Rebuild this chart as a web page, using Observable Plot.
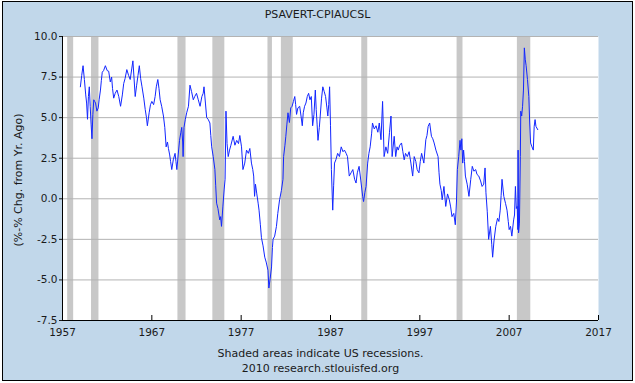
<!DOCTYPE html>
<html>
<head>
<meta charset="utf-8">
<script src="https://cdn.jsdelivr.net/npm/d3@7"></script>
<script src="https://cdn.jsdelivr.net/npm/@observablehq/plot@0.6"></script>
<style>
  html, body { margin: 0; padding: 0; background: #ffffff; }
  body { width: 635px; height: 383px; position: relative; overflow: hidden; font-family: "DejaVu Sans", Verdana, sans-serif; color: #1a1a1a; }
  #frame { position: absolute; left: 2px; top: 1px; width: 631px; height: 380px; box-sizing: border-box; border: 1px solid #000; background: #c1d7ea; }
  #chart { position: absolute; left: 0; top: 0; }
  .txt { position: absolute; left: 0; width: 635px; text-align: center; font-size: 11px; line-height: 14px; white-space: nowrap; }
  #ylab { position: absolute; left: 19px; top: 180px; font-size: 11px; line-height: 14px; white-space: nowrap; transform: translate(-50%, -50%) rotate(-90deg); }
</style>
</head>
<body>
<div id="frame"></div>
<div id="chart"></div>
<div class="txt" id="title" style="top:8px;">PSAVERT-CPIAUCSL</div>
<div id="ylab">(%-% Chg. from Yr. Ago)</div>
<div class="txt" style="top:347px; left:3px;">Shaded areas indicate US recessions.</div>
<div class="txt" style="top:362px; left:3px;">2010 research.stlouisfed.org</div>
<script>
const years = [
1959.0,1959.15,1959.3,1959.45,1959.6,1959.7,1959.8,1959.9,1960.0,1960.1,1960.2,1960.3,1960.4,1960.5,1960.6,1960.7,1960.85,
1961.0,1961.1,1961.25,1961.35,1961.45,1961.6,1961.8,1962.0,1962.17,1962.35,1962.5,1962.6,1962.73,1962.9,
1963.1,1963.3,1963.5,1963.7,1963.85,1964.0,1964.2,1964.4,1964.58,1964.75,1964.88,1965.0,1965.14,1965.3,1965.45,1965.6,1965.75,1965.9,
1966.1,1966.26,1966.4,1966.5,1966.7,1966.85,1967.0,1967.2,1967.37,1967.5,1967.67,1967.8,1967.93,
1968.1,1968.3,1968.45,1968.6,1968.75,1968.86,1969.0,1969.1,1969.23,1969.4,1969.6,1969.7,1969.8,1969.95,
1970.1,1970.25,1970.35,1970.45,1970.5,1970.6,1970.75,1970.9,1971.1,1971.27,1971.45,1971.64,1971.8,
1972.0,1972.2,1972.4,1972.6,1972.75,1972.84,1973.0,1973.14,1973.3,1973.5,1973.6,1973.7,1973.87,
1974.06,1974.15,1974.25,1974.4,1974.6,1974.7,1974.8,1974.95,1975.1,1975.2,1975.3,1975.42,1975.55,1975.7,1975.85,
1976.1,1976.3,1976.5,1976.7,1976.85,1977.04,1977.2,1977.4,1977.6,1977.8,1977.97,
1978.15,1978.3,1978.4,1978.5,1978.6,1978.75,1978.9,1979.0,1979.15,1979.27,1979.45,1979.64,1979.8,
1980.0,1980.1,1980.25,1980.4,1980.5,1980.57,1980.75,1980.95,1981.1,1981.3,1981.5,1981.68,1981.75,1981.9,
1982.0,1982.12,1982.24,1982.4,1982.55,1982.7,1982.85,1983.0,1983.1,1983.2,1983.35,1983.55,1983.7,1983.84,1983.95,
1984.1,1984.25,1984.4,1984.55,1984.7,1984.85,1985.0,1985.15,1985.3,1985.4,1985.5,1985.6,1985.75,1985.85,
1986.0,1986.14,1986.3,1986.45,1986.6,1986.7,1986.8,1986.9,1987.0,1987.1,1987.25,1987.35,1987.45,1987.6,1987.8,
1988.0,1988.2,1988.4,1988.56,1988.75,1988.9,1989.1,1989.3,1989.5,1989.7,1989.86,
1990.0,1990.2,1990.4,1990.6,1990.7,1990.85,1990.98,1991.16,1991.3,1991.44,1991.6,1991.7,1991.9,
1992.1,1992.3,1992.46,1992.65,1992.83,1993.0,1993.2,1993.4,1993.6,1993.77,1993.9,
1994.13,1994.3,1994.45,1994.58,1994.75,1994.95,1995.1,1995.25,1995.4,1995.6,1995.8,
1996.0,1996.2,1996.37,1996.55,1996.7,1996.9,1997.05,1997.2,1997.45,1997.67,1997.8,1997.93,
1998.1,1998.3,1998.45,1998.6,1998.8,1999.04,1999.15,1999.25,1999.4,1999.5,1999.7,1999.9,
2000.1,2000.3,2000.45,2000.6,2000.8,2000.97,2001.1,2001.2,2001.35,2001.5,2001.6,2001.7,2001.8,2001.9,
2002.0,2002.1,2002.3,2002.5,2002.7,2002.87,2003.05,2003.25,2003.4,2003.6,2003.8,2003.97,
2004.15,2004.3,2004.4,2004.55,2004.7,2004.9,2005.05,2005.15,2005.3,2005.5,2005.7,2005.85,
2006.0,2006.1,2006.2,2006.4,2006.6,2006.76,2006.9,2007.0,2007.15,2007.3,2007.5,2007.6,2007.7,2007.8,2007.9,2007.97,
2008.0,2008.05,2008.15,2008.25,2008.3,2008.4,2008.5,2008.6,2008.7,2008.8,2008.9,
2009.05,2009.2,2009.3,2009.4,2009.55,2009.7,2009.8,2009.9,2010.0,2010.2
];
const values = [
6.9,7.6,8.2,7.35,6.4,5.9,4.9,6.3,6.9,5.7,4.6,3.7,5.2,6.1,6.0,5.9,5.4,
5.6,6.1,6.7,7.3,7.8,7.9,8.2,7.9,7.86,7.2,7.5,6.8,6.2,6.5,
6.7,6.3,5.7,6.4,7.1,7.4,7.96,7.6,7.35,8.0,8.5,7.5,6.3,7.0,7.6,8.2,7.4,6.9,
6.2,5.5,5.0,4.5,5.3,5.8,6.0,5.8,6.3,6.9,7.35,6.8,6.1,
5.7,5.1,4.4,3.2,3.5,3.1,2.7,2.3,1.8,2.4,2.8,2.3,1.8,2.7,
3.6,4.1,4.4,3.5,2.6,4.4,4.9,5.3,5.7,7.0,6.6,6.1,6.3,
6.5,6.1,5.7,6.3,6.5,6.9,5.9,5.0,4.9,4.67,3.9,3.2,2.6,
1.8,0.8,-0.27,-0.6,-1.3,-1.1,-1.7,-0.5,0.6,1.2,5.4,3.4,2.6,3.0,3.3,
3.85,3.3,3.6,3.4,3.9,3.2,1.8,2.2,3.0,2.8,3.1,
2.2,1.8,1.4,0.15,0.9,0.3,-0.27,-0.7,-1.6,-2.4,-2.9,-3.6,-3.9,
-4.4,-5.5,-4.9,-4.2,-3.0,-2.5,-2.3,-1.7,-0.9,-0.06,0.5,1.2,2.6,3.3,
3.85,4.6,5.3,4.7,5.6,5.7,6.0,6.3,5.8,5.2,5.6,5.7,5.1,4.5,5.3,
5.7,5.9,6.3,6.5,6.1,6.3,4.5,5.2,6.7,5.5,4.6,3.6,4.4,5.1,
6.2,6.9,6.6,6.3,5.6,5.1,5.8,6.9,4.5,1.8,-0.7,0.8,2.2,2.4,2.8,
2.6,3.2,2.9,3.0,2.8,2.6,1.4,1.6,1.8,1.2,0.97,
1.6,2.0,1.1,0.15,-0.17,0.4,0.76,2.2,2.8,3.2,4.0,4.67,4.3,
4.5,4.1,4.67,3.64,6.0,2.6,3.2,2.8,4.07,5.1,2.6,
3.85,2.6,3.2,3.0,3.3,3.44,2.9,2.4,2.8,2.6,2.9,
2.2,1.4,2.6,2.3,1.8,1.6,2.3,2.8,2.2,3.64,3.9,4.46,
4.67,3.85,3.7,3.44,3.0,2.6,1.6,0.9,0.5,-0.06,0.76,-0.47,
0.3,-0.06,-0.5,-1.1,-0.9,-1.6,-0.2,1.8,2.6,3.6,3.0,3.7,2.2,3.0,
2.3,1.4,0.9,0.15,1.2,2.0,1.7,1.8,1.5,1.4,1.1,0.76,
0.9,1.9,0.37,-0.8,-2.5,-1.7,-2.8,-3.6,-2.6,-1.7,-1.2,-1.4,
-0.7,0.2,1.2,0.15,-0.3,-0.7,-1.4,-1.9,-1.7,-2.3,-1.3,-1.0,0.76,-0.6,-0.47,-1.9,
3.0,-2.1,-1.5,2.6,5.4,5.1,5.7,6.7,9.3,8.6,8.2,
7.35,6.3,4.67,3.44,3.2,3.0,4.46,4.88,4.46,4.26
];
const recessionStart = [1957.58, 1960.25, 1969.92, 1973.83, 1980.0, 1981.5, 1990.5, 2001.17, 2007.92];
const recessionEnd   = [1958.25, 1961.08, 1970.83, 1975.17, 1980.5, 1982.83, 1991.17, 2001.83, 2009.42];
const xTicks = [1957, 1967, 1977, 1987, 1997, 2007, 2017];
const yTicks = [-7.5, -5.0, -2.5, 0.0, 2.5, 5.0, 7.5, 10.0];

const series = years.map((y, i) => ({year: y, value: values[i]}));
const bands = recessionStart.map((s, i) => ({start: s, end: recessionEnd[i]}));

const chart = Plot.plot({
  width: 635,
  height: 345,
  marginLeft: 62,
  marginRight: 37,
  marginTop: 36,
  marginBottom: 25,
  style: {background: "transparent", fontFamily: "DejaVu Sans, Verdana, sans-serif", fontSize: "10.5px", color: "#1a1a1a"},
  x: {domain: [1957, 2017], label: null},
  y: {domain: [-7.5, 10], label: null},
  marks: [
    Plot.frame({fill: "white", stroke: null}),
    Plot.rect(bands, {x1: "start", x2: "end", fill: "#c8c8c8"}),
    Plot.ruleY(yTicks.filter(d => d > -7.5), {stroke: "#b3b3b3", strokeWidth: 1}),
    Plot.line(series, {x: "year", y: "value", stroke: "#1226ff", strokeWidth: 1}),
    Plot.ruleY([-7.5], {stroke: "#000"}),
    Plot.ruleX([1957], {stroke: "#000"}),
    Plot.ruleX(xTicks.slice(1), {x: d => d, y1: -7.5, y2: -7.5, insetTop: -5, stroke: "#000"}),
    Plot.axisX({ticks: xTicks, tickFormat: d => String(d), tickSize: 0, tickPadding: 8, label: null}),
    Plot.axisY({ticks: yTicks, tickFormat: d => d.toFixed(1), tickSize: 3, tickPadding: 2, label: null})
  ]
});
document.getElementById("chart").appendChild(chart);
</script>
</body>
</html>
